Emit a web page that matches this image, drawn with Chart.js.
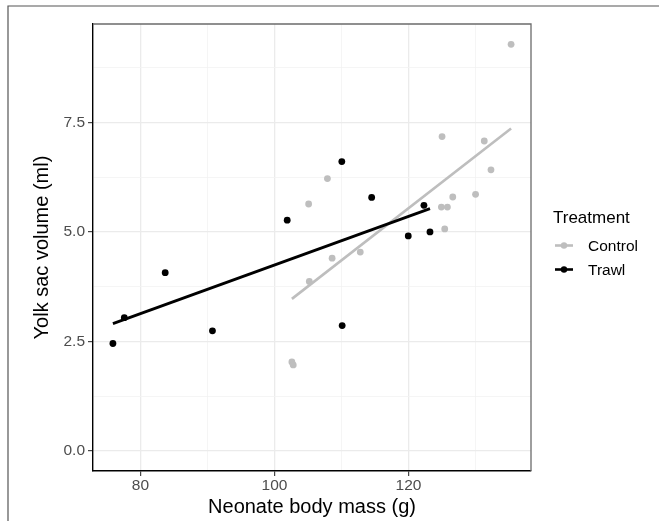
<!DOCTYPE html>
<html>
<head>
<meta charset="utf-8">
<script src="https://cdn.jsdelivr.net/npm/chart.js@4"></script>
<style>
  html, body { margin: 0; padding: 0; background: #fff; overflow: hidden; }
  canvas { display: block; }
</style>
</head>
<body>
<canvas id="yolk" width="659" height="521"></canvas>
<script>
// valeurs
const controlMass = [102.6, 102.8, 105.1, 105.2, 107.9, 108.6, 112.8, 124.9, 125.0, 125.4, 125.8, 126.6, 130.0, 131.3, 132.3, 135.3];
const controlYolk = [2.03, 1.96, 5.64, 3.87, 6.22, 4.40, 4.54, 5.57, 7.18, 5.07, 5.57, 5.80, 5.86, 7.08, 6.42, 9.29];
const trawlMass = [75.9, 77.6, 83.7, 90.75, 101.9, 110.05, 110.1, 114.5, 119.96, 122.3, 123.2];
const trawlYolk = [2.45, 3.04, 4.07, 2.74, 5.27, 6.61, 2.86, 5.79, 4.91, 5.61, 5.00];
const groups = ['Control', 'Trawl'];
const xTickLabels = [80, 100, 120];
const yTickLabels = [0, 2.5, 5, 7.5];

const FONT = "'Liberation Sans', Arial, sans-serif";
const grey = '#BEBEBE';

function pts(xs, ys) { return xs.map((x, i) => ({x: x, y: ys[i]})); }

// droite des moindres carres (comme geom_smooth(method = "lm"))
function fit(xs, ys) {
    const n = xs.length;
    const mx = xs.reduce((a, b) => a + b, 0) / n;
    const my = ys.reduce((a, b) => a + b, 0) / n;
    let sxy = 0, sxx = 0;
    xs.forEach((x, i) => { sxy += (x - mx) * (ys[i] - my); sxx += (x - mx) * (x - mx); });
    const b = sxy / sxx, a = my - b * mx;
    const lo = Math.min(...xs), hi = Math.max(...xs);
    return [{x: lo, y: a + b * lo}, {x: hi, y: a + b * hi}];
}

// expansion de 5 % comme ggplot
const allX = controlMass.concat(trawlMass);
const allY = controlYolk.concat(trawlYolk, [0]);
const xLo = Math.min(...allX), xHi = Math.max(...allX);
const yLo = Math.min(...allY), yHi = Math.max(...allY);
const xPad = (xHi - xLo) * 0.05, yPad = (yHi - yLo) * 0.05;

function isLabel(v, list) { return list.some(t => Math.abs(t - v) < 1e-6); }

const panelFrame = {
    id: 'panelFrame',
    beforeDraw(chart) {
        const c = chart.ctx;
        c.save();
        c.strokeStyle = '#555';
        c.lineWidth = 1.2;
        c.beginPath();
        c.moveTo(8, 521); c.lineTo(8, 6); c.lineTo(659, 6);
        c.stroke();
        c.restore();
    },
    afterDraw(chart) {
        const a = chart.chartArea, c = chart.ctx;
        c.save();
        c.strokeStyle = '#6b6b6b';
        c.lineWidth = 1.3;
        c.beginPath();
        c.moveTo(a.left, a.top); c.lineTo(a.right, a.top); c.lineTo(a.right, a.bottom);
        c.stroke();

        // legende
        c.fillStyle = '#000';
        c.textBaseline = 'middle';
        c.textAlign = 'left';
        c.font = '17px ' + FONT;
        c.fillText('Treatment', 553, 218);
        const cols = [grey, '#000'];
        const ys = [245.5, 269.5];
        groups.forEach((g, i) => {
            c.strokeStyle = cols[i];
            c.lineWidth = 2.6;
            c.beginPath();
            c.moveTo(555, ys[i]); c.lineTo(573, ys[i]);
            c.stroke();
            c.fillStyle = cols[i];
            c.beginPath();
            c.arc(564, ys[i], 3.2, 0, Math.PI * 2);
            c.fill();
            c.fillStyle = '#000';
            c.font = '15.5px ' + FONT;
            c.fillText(g, 588, ys[i] + 1);
        });
        c.restore();
    }
};

const ctx = document.getElementById('yolk').getContext('2d');
new Chart(ctx, {
    type: 'scatter',
    data: {
        datasets: [
            { label: 'Trawl fit', data: fit(trawlMass, trawlYolk), showLine: true, borderColor: '#000',
              borderWidth: 2.8, pointRadius: 0, order: 0 },
            { label: 'Control fit', data: fit(controlMass, controlYolk), showLine: true, borderColor: grey,
              borderWidth: 2.6, pointRadius: 0, order: 1 },
            { label: 'Trawl', data: pts(trawlMass, trawlYolk), backgroundColor: '#000', borderWidth: 0,
              pointRadius: 3.4, order: 2 },
            { label: 'Control', data: pts(controlMass, controlYolk), backgroundColor: grey, borderWidth: 0,
              pointRadius: 3.4, order: 3 }
        ]
    },
    options: {
        responsive: false,
        animation: false,
        devicePixelRatio: 1,
        layout: { padding: { top: 24, right: 128, left: 0, bottom: 0 } },
        plugins: { legend: { display: false }, tooltip: { enabled: false } },
        scales: {
            x: {
                type: 'linear',
                min: xLo - xPad,
                max: xHi + xPad,
                afterFit: s => { s.height = 50; },
                ticks: {
                    stepSize: 10, includeBounds: false, autoSkip: false, maxRotation: 0,
                    padding: 0, color: '#4D4D4D', font: { family: FONT, size: 15.5 },
                    callback: v => isLabel(v, xTickLabels) ? String(v) : ''
                },
                grid: {
                    color: c => isLabel(c.tick.value, xTickLabels) ? '#EBEBEB' : '#F2F2F2',
                    lineWidth: c => isLabel(c.tick.value, xTickLabels) ? 1.3 : 0.8,
                    tickColor: c => isLabel(c.tick.value, xTickLabels) ? '#333' : 'rgba(0,0,0,0)',
                    tickWidth: 1.1, tickLength: 5
                },
                border: { color: '#000', width: 1.4 },
                title: { display: true, text: 'Neonate body mass (g)', color: '#000',
                         font: { family: FONT, size: 20 }, padding: { top: 0, bottom: 2 } }
            },
            y: {
                min: yLo - yPad,
                max: yHi + yPad,
                afterFit: s => { s.width = 93; },
                ticks: {
                    stepSize: 1.25, includeBounds: false, autoSkip: false,
                    padding: 3, color: '#4D4D4D', font: { family: FONT, size: 15.5 },
                    callback: v => isLabel(v, yTickLabels) ? v.toFixed(1) : ''
                },
                grid: {
                    color: c => isLabel(c.tick.value, yTickLabels) ? '#EBEBEB' : '#F2F2F2',
                    lineWidth: c => isLabel(c.tick.value, yTickLabels) ? 1.3 : 0.8,
                    tickColor: c => isLabel(c.tick.value, yTickLabels) ? '#333' : 'rgba(0,0,0,0)',
                    tickWidth: 1.1, tickLength: 5
                },
                border: { color: '#000', width: 1.4 },
                title: { display: true, text: 'Yolk sac volume (ml)', color: '#000',
                         font: { family: FONT, size: 20 }, padding: { top: 30, bottom: 0 } }
            }
        }
    },
    plugins: [panelFrame]
});
</script>
</body>
</html>
